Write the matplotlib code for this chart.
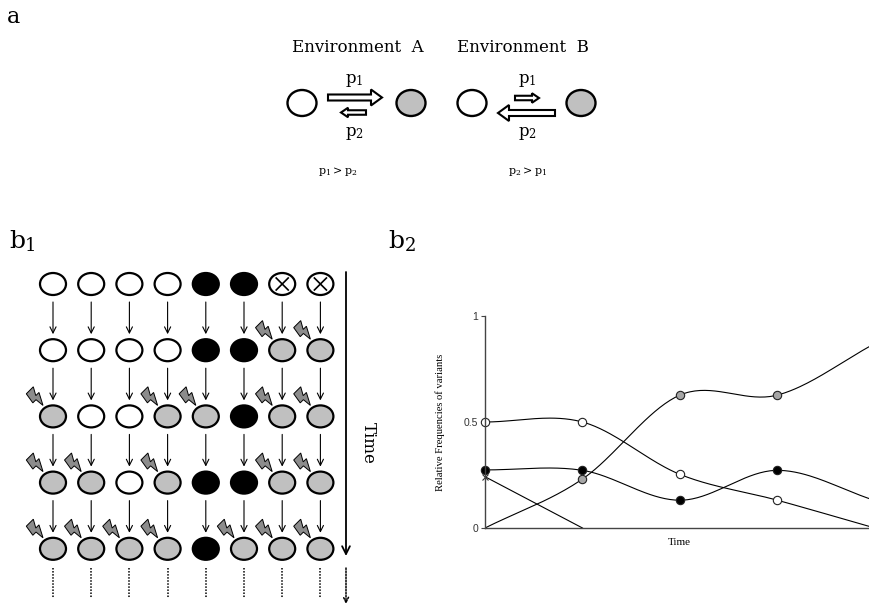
import numpy as np
import matplotlib.pyplot as plt
from matplotlib.patches import Ellipse, FancyArrow, Polygon

plt.rcParams['mathtext.fontset'] = 'dejavuserif'
serif = 'DejaVu Serif'

# panel b1: state of every individual in each generation
# W white, B black, G gray (changed by the environment), X white with a cross
grid = [
    "WWWWBBXX",
    "WWWWBBGG",
    "GWWGGBGG",
    "GGWGBBGG",
    "GGGGBGGG",
]
fills = {"W": "white", "X": "white", "B": "black", "G": "#c0c0c0"}

# panel b2: relative frequencies of the variants
time = [0, 1, 2, 3, 4]
freq_white = [0.50, 0.50, 0.253, 0.131, 0.0]
freq_black = [0.274, 0.272, 0.131, 0.272, 0.13]
freq_gray = [0.0, 0.231, 0.627, 0.627, 0.87]
time_cross = [0, 1]
freq_cross = [0.242, 0.0]


def smooth(x, y, n=40):
    # catmull-rom style curve through the points
    x = np.asarray(x, float)
    y = np.asarray(y, float)
    m = np.zeros_like(y)
    m[1:-1] = (y[2:] - y[:-2]) / 2
    m[0] = y[1] - y[0]
    m[-1] = y[-1] - y[-2]
    xs, ys = [], []
    for i in range(len(x) - 1):
        t = np.linspace(0, 1, n)
        h00 = 2*t**3 - 3*t**2 + 1
        h10 = t**3 - 2*t**2 + t
        h01 = -2*t**3 + 3*t**2
        h11 = t**3 - t**2
        xs.append(x[i] + t*(x[i+1] - x[i]))
        ys.append(h00*y[i] + h10*m[i] + h01*y[i+1] + h11*m[i+1])
    return np.concatenate(xs), np.concatenate(ys)


fig = plt.figure(figsize=(8.7, 6.07), dpi=100)
ax = fig.add_axes([0, 0, 1, 1])
ax.set_xlim(0, 870)
ax.set_ylim(607, 0)
ax.axis('off')

# ---- panel a
ax.text(14, 17, "a", fontsize=16, family=serif, ha='center', va='center')
ax.text(358, 48, "Environment  A", fontsize=12, family=serif, ha='center', va='center')
ax.text(523, 48, "Environment  B", fontsize=12, family=serif, ha='center', va='center')
for cx, col in [(302, 'white'), (411, '#c0c0c0'), (472, 'white'), (581, '#c0c0c0')]:
    ax.add_patch(Ellipse((cx, 103), 29, 26, fc=col, ec='black', lw=1.7))

def block_arrow(x0, x1, y, w, hw, hl):
    ax.add_patch(FancyArrow(x0, y, x1 - x0, 0, width=w, head_width=hw, head_length=hl,
                            length_includes_head=True, fc='white', ec='black', lw=1.5))

block_arrow(328, 382, 97.5, 6, 16, 11)
block_arrow(366, 341, 112.5, 4.5, 9.5, 7)
block_arrow(515, 539, 98, 4.5, 9.5, 7)
block_arrow(555, 498, 113, 6, 16, 11)
for px in (354, 527):
    ax.text(px, 80, r"$\mathrm{p_1}$", fontsize=12, ha='center', va='center')
    ax.text(px, 133, r"$\mathrm{p_2}$", fontsize=12, ha='center', va='center')
ax.text(338, 172, r"$\mathrm{p_1 > p_2}$", fontsize=8, ha='center', va='center')
ax.text(528, 172, r"$\mathrm{p_2 > p_1}$", fontsize=8, ha='center', va='center')

# ---- panel b1
ax.text(17, 242, "b", fontsize=18, family=serif, ha='center', va='center')
ax.text(31, 246, "1", fontsize=13, family=serif, ha='center', va='center')

col_x = 53 + 38.2 * np.arange(8)
row_y = 284 + 66.2 * np.arange(5)

bolt = np.array([(-0.2, 0.0), (0.35, 0.0), (0.1, 0.4), (0.35, 0.4),
                 (0.0, 1.0), (-0.05, 0.55), (-0.3, 0.55)])
d = np.array([0.707, 0.707])
nrm = np.array([0.707, -0.707])

for i, row in enumerate(grid):
    for j, s in enumerate(row):
        cx, cy = col_x[j], row_y[i]
        ax.add_patch(Ellipse((cx, cy), 26, 22, fc=fills[s], ec='black', lw=1.6))
        if s == "X":
            ax.plot([cx - 6, cx + 6], [cy - 6, cy + 6], color='black', lw=1.2)
            ax.plot([cx - 6, cx + 6], [cy + 6, cy - 6], color='black', lw=1.2)
        if s == "G":
            tip = np.array([cx - 10, cy - 11])
            pts = [tip + (v - 1) * 20 * d + u * 18 * nrm for u, v in bolt]
            ax.add_patch(Polygon(pts, closed=True, fc='#8c8c8c', ec='black', lw=0.7))
        if i < len(grid) - 1:
            ax.annotate('', xy=(cx, row_y[i + 1] - 16), xytext=(cx, cy + 18),
                        arrowprops=dict(arrowstyle='->', lw=0.8, color='black',
                                        mutation_scale=11, shrinkA=0, shrinkB=0))
        else:
            ax.plot([cx, cx], [cy + 19, cy + 49], color='black', lw=1.1, ls=(0, (1, 1)))

# time arrow
ax.annotate('', xy=(346, 556), xytext=(346, 272),
            arrowprops=dict(arrowstyle='->', lw=1.3, color='black',
                            mutation_scale=14, shrinkA=0, shrinkB=0))
ax.annotate('', xy=(346, 604), xytext=(346, 568),
            arrowprops=dict(arrowstyle='->', lw=1.1, color='black', ls=(0, (1, 1)),
                            mutation_scale=9, shrinkA=0, shrinkB=0))
ax.text(368, 443, "Time", fontsize=12, family=serif, rotation=270,
        ha='center', va='center')

# ---- panel b2
ax.text(396, 242, "b", fontsize=18, family=serif, ha='center', va='center')
ax.text(411, 246, "2", fontsize=13, family=serif, ha='center', va='center')

ax2 = fig.add_axes([485 / 870, 79 / 607, 385 / 870, 212 / 607])
ax2.set_xlim(0, 3.95)
ax2.set_ylim(0, 1)
ax2.patch.set_alpha(0)

for vals, face, first in [(freq_white, 'white', 0), (freq_black, 'black', 0),
                          (freq_gray, '#a6a6a6', 1)]:
    sx, sy = smooth(time, vals)
    ax2.plot(sx, sy, color='black', lw=0.8)
    ax2.plot(time[first:4], vals[first:4], 'o', ms=6, mfc=face, mec='#222222',
             mew=0.8, clip_on=False)
ax2.plot(time_cross, freq_cross, color='black', lw=0.8)
ax2.plot(time_cross[:1], freq_cross[:1], 'x', ms=5, color='#333333', mew=0.8, clip_on=False)

for sp in ('top', 'right'):
    ax2.spines[sp].set_visible(False)
for sp in ('left', 'bottom'):
    ax2.spines[sp].set_color('#444444')
    ax2.spines[sp].set_linewidth(1)
ax2.set_xticks([])
ax2.set_yticks([0, 0.5, 1])
ax2.set_yticklabels(["0", "0.5", "1"], family='Liberation Sans', fontsize=7.5, color='#333333')
ax2.tick_params(axis='y', length=3, width=0.8, color='#444444', pad=2)
ax2.set_ylabel("Relative Frequencies of variants", family='Liberation Serif', fontsize=7.7)
ax2.yaxis.set_label_coords(-0.105, 0.5)
ax2.set_xlabel("Time", family='Liberation Serif', fontsize=8, labelpad=3)
ax2.xaxis.set_label_coords(0.506, -0.045)

fig.savefig("out.png", dpi=100)
